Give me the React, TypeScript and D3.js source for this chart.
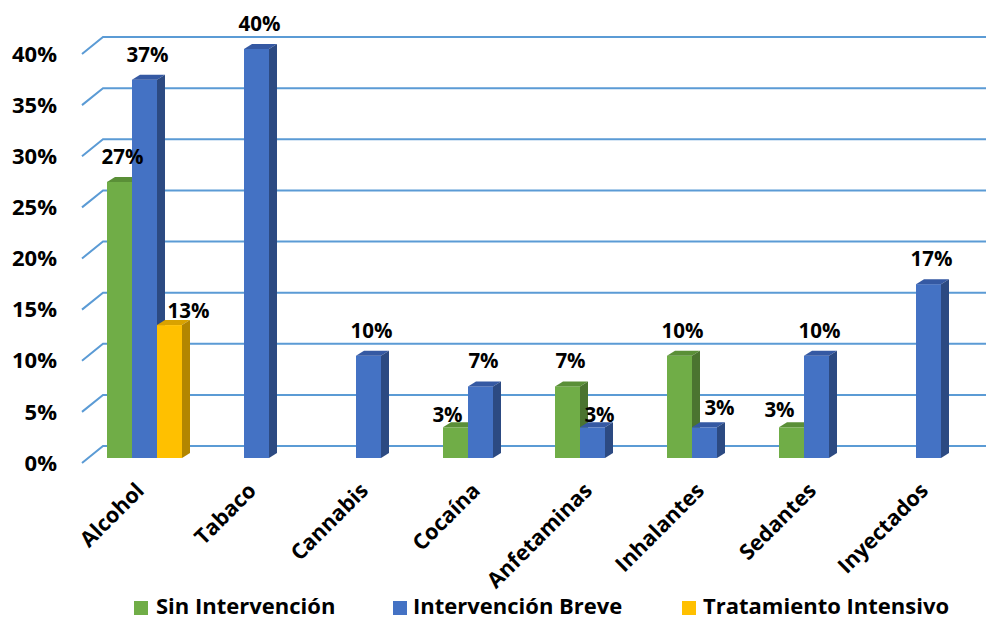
import React from "react";
import * as d3 from "d3";

// Categories and series (percent values; null = no bar)
const categories = ["Alcohol", "Tabaco", "Cannabis", "Cocaína", "Anfetaminas", "Inhalantes", "Sedantes", "Inyectados"];
const seriesNames = ["Sin Intervención", "Intervención Breve", "Tratamiento Intensivo"];
const sinIntervencion: (number | null)[] = [27, null, null, 3, 7, 10, 3, null];
const intervencionBreve: (number | null)[] = [37, 40, 10, 7, 3, 3, 10, 17];
const tratamientoIntensivo: (number | null)[] = [13, null, null, null, null, null, null, null];
const yTicks = [0, 5, 10, 15, 20, 25, 30, 35, 40];

// Face colours per series: front, top, side
const palette = [
  { front: "#70AD47", top: "#5A8F37", side: "#4B7430" },
  { front: "#4472C4", top: "#3559A3", side: "#2C4A82" },
  { front: "#FFC000", top: "#D9A200", side: "#B38600" },
];

// Data-label nudges where labels would collide (series index, category index -> dx, dy)
const labelNudge: Record<string, [number, number]> = {
  "2-0": [16, 11],
  "0-3": [-11, 13],
  "1-4": [4, 13],
  "1-5": [12, 6],
  "0-6": [-15, 8],
};

const W = 986;
const H = 621;
const FONT = "'Open Sans', Lato, sans-serif";

export default function App() {
  const values = [sinIntervencion, intervencionBreve, tratamientoIntensivo];

  // Back wall scale and bar (front plane) scale
  const yBack = d3.scaleLinear().domain([0, 40]).range([446, 37]);
  const yBar = d3.scaleLinear().domain([0, 40]).range([458, 49]);
  const wallDx = 21;
  const wallDy = 17;
  const axisX = 82;

  const x0 = d3.scaleBand<string>().domain(categories).range([88.5, 88.5 + 112 * 8]).padding(0);
  const x1 = d3.scaleBand<string>().domain(seriesNames).range([18.5, 93.5]).padding(0);
  const bw = x1.bandwidth();
  const dx = 8;
  const dy = 5;

  const bars: React.ReactNode[] = [];
  const labels: React.ReactNode[] = [];
  categories.forEach((cat, ci) => {
    values.forEach((arr, si) => {
      const v = arr[ci];
      if (v == null) return;
      const x = (x0(cat) as number) + (x1(seriesNames[si]) as number);
      const yt = yBar(v);
      const yb = yBar(0);
      const c = palette[si];
      bars.push(
        <g key={`b-${ci}-${si}`}>
          <rect x={x} y={yt} width={bw} height={yb - yt} fill={c.front} />
          <polygon
            points={`${x},${yt} ${x + dx},${yt - dy} ${x + bw + dx},${yt - dy} ${x + bw},${yt}`}
            fill={c.top}
          />
          <polygon
            points={`${x + bw},${yt} ${x + bw + dx},${yt - dy} ${x + bw + dx},${yb - dy} ${x + bw},${yb}`}
            fill={c.side}
          />
        </g>
      );
      const n = labelNudge[`${si}-${ci}`] || [0, 0];
      labels.push(
        <text
          key={`l-${ci}-${si}`}
          x={x + bw / 2 + 3 + n[0]}
          y={yt - dy - 13 + n[1]}
          textAnchor="middle"
          fontFamily={FONT}
          fontWeight="bold"
          fontSize={20.5}
          fill="#000"
        >
          {`${v}%`}
        </text>
      );
    });
  });

  const legendItems = [
    { name: seriesNames[0], sx: 134, tx: 156 },
    { name: seriesNames[1], sx: 393, tx: 413 },
    { name: seriesNames[2], sx: 682, tx: 703 },
  ];

  return (
    <svg width={W} height={H} style={{ display: "block", position: "absolute", left: 0, top: 0, background: "#fff" }}>
      {/* gridlines: slanted side wall segment then horizontal back wall */}
      {yTicks.map((t) => {
        const yb = yBack(t);
        return (
          <polyline
            key={`g-${t}`}
            points={`${axisX},${yb + wallDy} ${axisX + wallDx},${yb} ${W},${yb}`}
            fill="none"
            stroke="#5B9BD5"
            strokeWidth={2}
          />
        );
      })}
      {/* y tick labels */}
      {yTicks.map((t) => (
        <text
          key={`yt-${t}`}
          x={57}
          y={yBack(t) + wallDy}
          dy="0.35em"
          textAnchor="end"
          fontFamily={FONT}
          fontWeight="bold"
          fontSize={22}
          fill="#000"
        >
          {`${t}%`}
        </text>
      ))}
      {bars}
      {labels}
      {/* category labels */}
      {categories.map((cat) => {
        const cx = (x0(cat) as number) + x0.bandwidth() / 2 + 1;
        const cy = 492;
        return (
          <text
            key={`xc-${cat}`}
            transform={`translate(${cx},${cy}) rotate(-45)`}
            textAnchor="end"
            fontFamily={FONT}
            fontWeight="bold"
            fontSize={21.5}
            fill="#000"
          >
            {cat}
          </text>
        );
      })}
      {/* legend */}
      {legendItems.map((it, i) => (
        <g key={`lg-${i}`}>
          <rect x={it.sx} y={601} width={14} height={14} fill={palette[i].front} />
          <text x={it.tx} y={614} fontFamily={FONT} fontWeight="bold" fontSize={22} fill="#000">
            {it.name}
          </text>
        </g>
      ))}
    </svg>
  );
}
